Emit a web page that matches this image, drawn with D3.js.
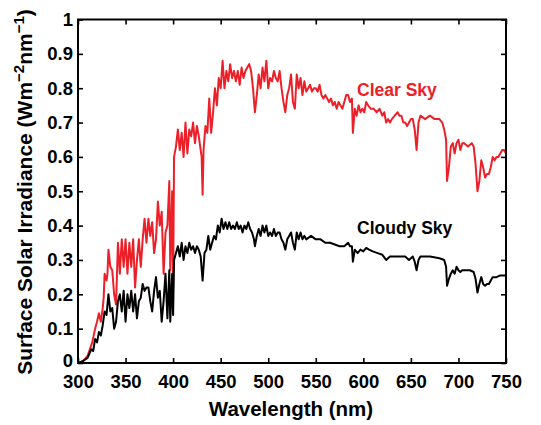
<!DOCTYPE html>
<html><head><meta charset="utf-8">
<script src="https://cdn.jsdelivr.net/npm/d3@7"></script>
<style>body{margin:0;background:#fff}svg{display:block}text{font-family:"Liberation Sans",Arial,Helvetica,sans-serif;font-weight:bold}</style>
</head><body>
<script>
const xTicks = [300,350,400,450,500,550,600,650,700,750];
const yTicks = [0,0.1,0.2,0.3,0.4,0.5,0.6,0.7,0.8,0.9,1];
const yTickLabels = ["0","0.1","0.2","0.3","0.4","0.5","0.6","0.7","0.8","0.9","1"];

const clearWl = [300,305,310,315,318,320,322,324,326,327,328,330,331,332,334,336,338,340,342,344,346,348,350,352,354,356,358,360,362,364,366,368,370,372,374,376,378,380,382,384,386,388,390,392,394,396,397,399,400,401,403,405,407,409,411,413,415,417,419,421,423,425,427,429,430,431,432,434,436,438,440,442,444,446,448,450,452,454,456,458,460,462,464,466,468,470,472,474,476,478,480,482,484,486,488,490,492,494,496,498,500,502,504,506,508,510,512,514,516,518,520,522,524,526,528,530,532,534,536,538,540,542,544,546,548,550,552,554,556,558,560,562,564,566,568,570,572,574,576,578,580,582,584,586,588,589,591,593,595,597,599,601,603,605,608,611,614,617,620,622,624,626,628,630,633,636,638,640,642,644,646,648,650,652,654,656,658,660,665,670,675,680,683,685,687,688,690,692,694,696,698,700,702,704,706,710,714,716,718,720,722,724,726,728,730,732,734,736,738,740,742,744,746,748,750];
const clearVal = [0,0.005,0.02,0.06,0.10,0.12,0.145,0.12,0.16,0.19,0.26,0.24,0.26,0.33,0.28,0.27,0.20,0.17,0.35,0.26,0.36,0.28,0.36,0.26,0.35,0.28,0.36,0.22,0.30,0.36,0.28,0.36,0.42,0.35,0.42,0.37,0.41,0.32,0.36,0.47,0.40,0.44,0.26,0.38,0.40,0.53,0.27,0.50,0.22,0.60,0.63,0.68,0.62,0.67,0.60,0.70,0.61,0.68,0.66,0.70,0.64,0.69,0.66,0.62,0.60,0.49,0.62,0.69,0.67,0.77,0.67,0.73,0.80,0.75,0.83,0.80,0.88,0.80,0.85,0.82,0.87,0.83,0.85,0.82,0.85,0.81,0.86,0.83,0.85,0.86,0.87,0.85,0.80,0.73,0.78,0.84,0.80,0.86,0.82,0.88,0.80,0.83,0.82,0.85,0.83,0.82,0.85,0.80,0.76,0.73,0.78,0.80,0.84,0.76,0.74,0.84,0.80,0.83,0.78,0.82,0.79,0.80,0.81,0.79,0.80,0.80,0.79,0.81,0.78,0.77,0.78,0.77,0.76,0.77,0.75,0.76,0.74,0.76,0.75,0.74,0.76,0.78,0.78,0.76,0.77,0.67,0.74,0.72,0.75,0.73,0.74,0.73,0.76,0.75,0.74,0.74,0.73,0.74,0.72,0.73,0.70,0.71,0.70,0.71,0.72,0.73,0.72,0.72,0.70,0.70,0.69,0.70,0.71,0.71,0.68,0.62,0.70,0.72,0.71,0.72,0.71,0.71,0.70,0.68,0.65,0.53,0.57,0.63,0.64,0.61,0.64,0.65,0.62,0.64,0.64,0.63,0.64,0.63,0.58,0.50,0.53,0.59,0.57,0.54,0.55,0.55,0.57,0.60,0.59,0.60,0.60,0.61,0.62,0.62,0.61];

const cloudyWl = [300,305,310,314,316,318,320,322,324,326,328,330,332,334,336,338,340,342,344,346,348,350,352,354,356,358,360,362,364,366,368,370,372,374,376,378,380,382,384,386,388,390,392,394,396,397,399,400,401,403,405,407,409,411,413,415,417,419,421,423,425,427,429,431,433,435,437,439,441,443,445,447,449,451,453,455,457,459,461,463,465,467,469,471,473,475,477,479,481,483,485,486,488,490,492,494,496,498,500,502,504,506,508,510,512,514,516,518,520,522,524,526,528,530,532,534,536,538,540,545,550,555,560,565,570,575,580,584,586,588,589,591,594,597,600,603,606,610,615,620,624,628,632,636,640,644,648,652,654,656,658,660,670,680,685,687,688,690,692,694,696,698,700,702,704,708,712,716,718,720,722,724,726,728,730,732,734,736,740,744,748,750];
const cloudyVal = [0,0.005,0.015,0.04,0.035,0.07,0.06,0.09,0.08,0.11,0.15,0.14,0.20,0.15,0.16,0.10,0.12,0.18,0.20,0.15,0.21,0.12,0.20,0.16,0.21,0.15,0.20,0.13,0.18,0.19,0.23,0.21,0.22,0.22,0.18,0.15,0.21,0.25,0.19,0.21,0.12,0.18,0.26,0.13,0.27,0.12,0.26,0.14,0.30,0.32,0.34,0.31,0.35,0.30,0.34,0.32,0.35,0.33,0.34,0.32,0.34,0.33,0.31,0.24,0.32,0.33,0.37,0.33,0.35,0.37,0.36,0.40,0.38,0.42,0.39,0.41,0.39,0.41,0.39,0.40,0.39,0.41,0.39,0.40,0.38,0.40,0.39,0.41,0.39,0.38,0.36,0.34,0.37,0.39,0.37,0.40,0.38,0.40,0.37,0.38,0.37,0.39,0.37,0.38,0.38,0.36,0.35,0.33,0.36,0.37,0.38,0.35,0.33,0.38,0.36,0.38,0.36,0.37,0.36,0.37,0.36,0.36,0.35,0.35,0.345,0.34,0.34,0.35,0.34,0.34,0.295,0.33,0.32,0.33,0.325,0.335,0.33,0.325,0.32,0.315,0.30,0.31,0.31,0.31,0.31,0.31,0.30,0.31,0.295,0.27,0.30,0.31,0.31,0.305,0.30,0.28,0.225,0.245,0.26,0.27,0.26,0.28,0.27,0.265,0.27,0.27,0.27,0.265,0.245,0.205,0.23,0.25,0.23,0.225,0.23,0.23,0.24,0.25,0.25,0.255,0.255,0.255];

const W = 541, H = 425;
const m = {l:78, r:506, t:19.5, b:363};
const svg = d3.select("body").append("svg").attr("width",W).attr("height",H);
const x = d3.scaleLinear().domain([300,750]).range([m.l,m.r]);
const y = d3.scaleLinear().domain([0,1]).range([m.b,m.t]);

const line = d3.line().x(d=>x(d[0])).y(d=>y(d[1]));
svg.append("path").datum(clearWl.map((w,i)=>[w,clearVal[i]]))
  .attr("d",line).attr("fill","none").attr("stroke","#ec2028").attr("stroke-width",2).attr("stroke-linejoin","round");
svg.append("path").datum(cloudyWl.map((w,i)=>[w,cloudyVal[i]]))
  .attr("d",line).attr("fill","none").attr("stroke","#000").attr("stroke-width",2).attr("stroke-linejoin","round");

const tl = 5;
const fs = 18.5;
function styleAxis(g){ g.select(".domain").remove(); g.selectAll(".tick line").attr("stroke","#000").attr("stroke-width",1.6); }
svg.append("g").attr("transform",`translate(0,${m.b})`)
  .call(d3.axisBottom(x).tickValues(xTicks).tickSize(-tl).tickPadding(12).tickFormat(d3.format("d")))
  .call(styleAxis).selectAll("text").attr("font-size",fs).attr("fill","#000").attr("font-family","'Liberation Sans',Arial,sans-serif").attr("font-weight","bold");
svg.append("g").attr("transform",`translate(0,${m.t})`)
  .call(d3.axisTop(x).tickValues(xTicks).tickSize(-tl).tickFormat(""))
  .call(styleAxis);
const yAx = svg.append("g").attr("transform",`translate(${m.l},0)`)
  .call(d3.axisLeft(y).tickValues(yTicks).tickSize(-tl).tickPadding(5).tickFormat((d,i)=>yTickLabels[i]))
  .call(styleAxis);
yAx.selectAll("text").attr("font-size",fs).attr("fill","#000").attr("font-family","'Liberation Sans',Arial,sans-serif").attr("font-weight","bold");
yAx.selectAll("text").filter(d=>d===0).attr("dy","0.2em");
svg.append("g").attr("transform",`translate(${m.r},0)`)
  .call(d3.axisRight(y).tickValues(yTicks).tickSize(-tl).tickFormat(""))
  .call(styleAxis);

svg.append("rect").attr("x",m.l).attr("y",m.t).attr("width",m.r-m.l).attr("height",m.b-m.t)
  .attr("fill","none").attr("stroke","#000").attr("stroke-width",2);

svg.append("text").attr("x",291).attr("y",416).attr("text-anchor","middle").attr("font-size",20.5).text("Wavelength (nm)");
const yt = svg.append("text").attr("transform",`translate(32,${192}) rotate(-90)`).attr("text-anchor","middle").attr("font-size",21);
yt.append("tspan").text("Surface Solar Irradiance (Wm");
yt.append("tspan").attr("dy",-8).attr("font-size",15).text("\u22122");
yt.append("tspan").attr("dy",8).text("nm");
yt.append("tspan").attr("dy",-8).attr("font-size",15).text("\u22121");
yt.append("tspan").attr("dy",8).text(")");

svg.append("text").attr("x",357).attr("y",96).attr("font-size",17.5).attr("fill","#ec2028").text("Clear Sky");
svg.append("text").attr("x",357).attr("y",234).attr("font-size",17.5).attr("fill","#000").text("Cloudy Sky");
</script>
</body></html>
